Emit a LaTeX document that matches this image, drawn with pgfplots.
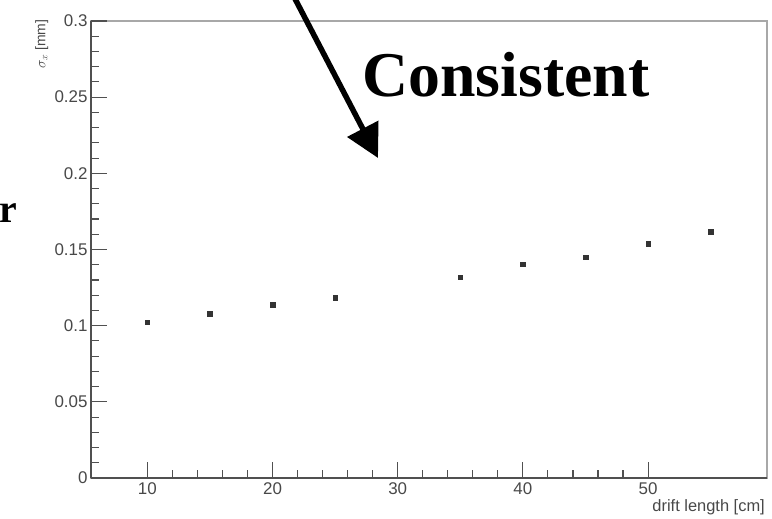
\documentclass[border=0pt]{standalone}
\usepackage{fontspec}
\setmainfont{Liberation Sans}
\newfontfamily\serifbold{Liberation Serif}
\usepackage{pgfplots}
\pgfplotsset{compat=1.18}
\usetikzlibrary{arrows.meta}
\definecolor{axgray}{HTML}{505050}
\definecolor{boxgray}{HTML}{A8A8A8}
\definecolor{lblgray}{HTML}{484848}
\definecolor{ptgray}{HTML}{333333}
\begin{document}
\begin{tikzpicture}
\useasboundingbox (0,0) rectangle (772bp,519bp);
\begin{axis}[
  at={(91bp,41bp)}, anchor=south west,
  scale only axis, width=676bp, height=457bp,
  xmin=5.5, xmax=59.5, ymin=0, ymax=0.3,
  xtick={10,20,30,40,50}, ytick={0,0.05,0.1,0.15,0.2,0.25,0.3},
  minor x tick num=4, minor y tick num=4,
  scaled y ticks=false,
  yticklabel style={/pgf/number format/fixed, /pgf/number format/precision=2},
  /pgf/number format/assume math mode=true,
  tick align=inside,
  major tick length=16bp, minor tick length=8bp,
  axis x line*=bottom, axis y line*=left,
  axis line style={axgray, line width=1.2bp, -},
  tick style={axgray, line width=1.1bp},
  axis background/.style={draw=boxgray, line width=1.6bp},
  ticklabel style={font=\fontsize{17}{17}\selectfont, text=lblgray},
  xticklabel style={yshift=-1bp},
  yticklabel style={xshift=0bp},
  xlabel={drift length [cm]},
  xlabel style={at={(axis description cs:1,0)}, anchor=north east, inner sep=0pt, yshift=-21bp, xshift=-2bp, font=\fontsize{16.5}{16.5}\selectfont, text=lblgray},
  ylabel={$\sigma_{x}$ [mm]},
  ylabel style={at={(axis description cs:-0.063,1.003)}, anchor=south east, inner sep=0pt, font=\fontsize{14}{14}\selectfont, text=lblgray},
]
\addplot[only marks, mark=square*, mark size=2.3bp, color=ptgray] coordinates {
  (10,0.1024) (15,0.1079) (20,0.1136) (25,0.1182)
  (35,0.1318) (40,0.1403) (45,0.1449) (50,0.1538) (55,0.1617)
};
\end{axis}
\node[anchor=base, inner sep=0pt, font=\serifbold\bfseries\fontsize{64}{64}\selectfont] at (506bp,422bp) {Consistent};
\node[anchor=base west, inner sep=0pt, font=\serifbold\bfseries\fontsize{40}{40}\selectfont] at (-1bp,296bp) {r};
\draw[line width=5.5bp, -{Triangle[length=33bp,width=34bp]}] (292bp,526bp) -- (378bp,361bp);
\end{tikzpicture}
\end{document}
